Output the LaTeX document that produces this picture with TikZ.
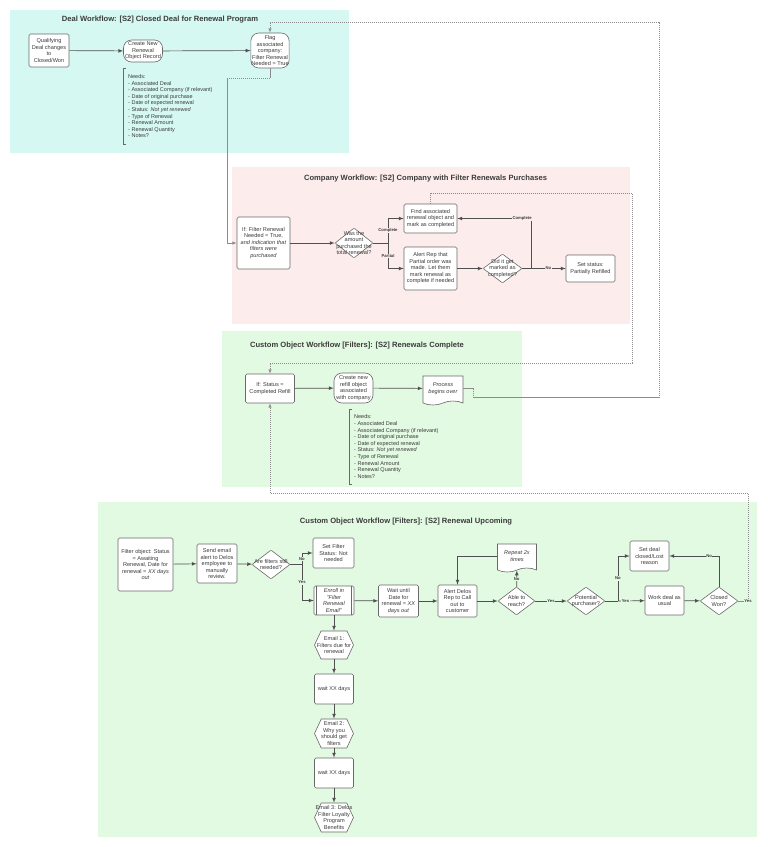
\documentclass[tikz,border=0pt]{standalone}
\usepackage{fontspec}
\setmainfont{Liberation Sans}
\usetikzlibrary{arrows}
\usetikzlibrary{shapes}

\definecolor{dealbg}{RGB}{214,248,242}
\definecolor{compbg}{RGB}{253,236,236}
\definecolor{custbg}{RGB}{226,249,226}
\definecolor{edge}{RGB}{80,80,80}
\definecolor{frame}{RGB}{105,105,105}
\definecolor{ink}{RGB}{60,60,60}

\begin{document}
\begin{tikzpicture}[x=1pt,y=-1pt]
   \tikzset{Flow/.style={->,>=latex,draw=edge,line width=0.7pt}}
   \tikzset{Line/.style={draw=edge,line width=0.7pt}}
   \tikzset{Link/.style={->,>=latex,draw=black!45,line width=0.5pt,dash pattern=on 1.2pt off 0.8pt}}
   \tikzset{Box/.style={draw=frame,fill=white,rounded corners=1.5pt,align=center,inner sep=0.5pt,text=ink,font=\fontsize{5.6}{6.5}\selectfont,line width=0.6pt}}
   \tikzset{Term/.style={Box,rounded corners=8pt}}
   \tikzset{Dec/.style={Box,diamond,rounded corners=0.8pt}}
   \tikzset{Doc/.style={Box,tape,tape bend top=none,tape bend bottom=in and out,tape bend height=4pt,rounded corners=0pt}}
   \tikzset{Hex/.style={Box,signal,signal to=west and east,signal pointer angle=130,rounded corners=0pt}}
   \tikzset{Mid/.style={font=\fontsize{5.6}{6.5}\selectfont,text=ink,align=center}}
   \tikzset{Title/.style={font=\fontsize{7.6}{9}\selectfont\bfseries,text=ink}}
   \tikzset{Needs/.style={align=left,anchor=north west,inner xsep=5pt,inner ysep=0pt,font=\fontsize{5.5}{6.6}\selectfont,text=ink}}
   \tikzset{Lbl/.style={font=\fontsize{4.2}{4.2}\selectfont\bfseries,text=ink,inner sep=0.6pt}}
   \useasboundingbox (0,0) rectangle (768,847);
   \fill[dealbg] (10,10) rectangle (349,153);
   \fill[compbg] (232,167) rectangle (630,324);
   \fill[custbg] (222,331) rectangle (522,487);
   \fill[custbg] (98,502) rectangle (757,837);
   \node[Title] (t1) at (160,20) {Deal Workflow: [S2] Closed Deal for Renewal Program};
   \node[Title] (t2) at (425.5,179) {Company Workflow: [S2] Company with Filter Renewals Purchases};
   \node[Title] (t3) at (357,346) {Custom Object Workflow [Filters]: [S2] Renewals Complete};
   \node[Title] (t4) at (406,522) {Custom Object Workflow [Filters]: [S2] Renewal Upcoming};
   \node[Box,minimum width=40pt,minimum height=33pt] (qual) at (49,50.5) {Qualifying\\Deal changes\\to\\Closed/Won};
   \node[Term,minimum width=39pt,minimum height=22pt] (newrec) at (143,51) {Create New\\Renewal\\Object Record};
   \node[Term,minimum width=37pt,minimum height=35pt] (flag) at (270,50.5) {Flag\\associated\\company:\\Filter Renewal\\Needed = True};
   \node[Needs,minimum height=76pt] (nd1) at (123,68) {Needs:\\- Associated Deal\\- Associated Company (if relevant)\\- Date of original purchase\\- Date of expected renewal\\- Status: \textit{Not yet renewed}\\- Type of Renewal\\- Renewal Amount\\- Renewal Quantity\\- Notes?};
   \draw[Line,draw=frame] ([xshift=3pt]nd1.north west) -- (nd1.north west) -- (nd1.south west) -- ([xshift=3pt]nd1.south west);
   \draw[Flow] (qual) -- (newrec);
   \draw[Flow] (newrec) -- (flag);
   \node[Box,minimum width=53pt,minimum height=52pt] (iff) at (263.5,243) {If: Filter Renewal\\Needed = True,\\\textit{and indication that}\\\textit{filters were}\\\textit{purchased}};
   \node[Dec,minimum width=38pt,minimum height=30pt,label={[Mid]center:{Was the\\amount\\purchased the\\total renewal?}}] (was) at (354,243) {};
   \node[Box,minimum width=53pt,minimum height=29pt] (find) at (430.5,218.5) {Find associated\\renewal object and\\mark as completed};
   \node[Box,minimum width=53pt,minimum height=43pt] (alert) at (430.5,268.5) {Alert Rep that\\Partial order was\\made. Let them\\mark renewal as\\complete if needed};
   \node[Dec,minimum width=39pt,minimum height=29pt,label={[Mid]center:{Did it get\\marked as\\completed?}}] (did) at (502.5,268.5) {};
   \node[Box,minimum width=49pt,minimum height=27pt] (setst) at (590.5,268.5) {Set status:\\Partially Refilled};
   \coordinate (br1) at (388,243);
   \coordinate (br2) at (531,268.5);
   \draw[Flow] (iff) -- (was);
   \draw[Line] (was.east) -- (br1);
   \draw[Flow] (br1) |- (find.west) node[Lbl,fill=compbg,pos=0.25]{Complete};
   \draw[Flow] (br1) |- (alert.west) node[Lbl,fill=compbg,pos=0.25]{Partial};
   \draw[Flow] (alert) -- (did);
   \draw[Line] (did.east) -- (br2);
   \draw[Flow] (br2) -- (setst) node[Lbl,fill=compbg,midway]{No};
   \draw[Flow] (br2) |- (find.east) node[Lbl,fill=compbg,pos=0.56]{Complete};
   \node[Box,minimum width=49pt,minimum height=29pt] (ifst) at (270,388.5) {If: Status =\\Completed Refill};
   \node[Term,minimum width=39pt,minimum height=30pt] (refill) at (353.5,388) {Create new\\refill object\\associated\\with company};
   \node[Doc,minimum width=40pt,minimum height=29pt] (again) at (443,388.5) {\textit{Process}\\\textit{begins over}};
   \node[Needs,minimum height=75pt] (nd2) at (349,409) {Needs:\\- Associated Deal\\- Associated Company (if relevant)\\- Date of original purchase\\- Date of expected renewal\\- Status: \textit{Not yet renewed}\\- Type of Renewal\\- Renewal Amount\\- Renewal Quantity\\- Notes?};
   \draw[Line,draw=frame] ([xshift=3pt]nd2.north west) -- (nd2.north west) -- (nd2.south west) -- ([xshift=3pt]nd2.south west);
   \draw[Flow] (ifst) -- (refill);
   \draw[Flow] (refill) -- (again);
   \node[Box,minimum width=55pt,minimum height=53pt] (filt) at (145.5,564.5) {Filter object: Status\\= Awaiting\\Renewal, Date for\\renewal = \textit{XX days}\\\textit{out}};
   \node[Box,minimum width=40pt,minimum height=39pt] (send) at (217,563.5) {Send email\\alert to Delos\\employee to\\manually\\review.};
   \node[Dec,minimum width=38pt,minimum height=29pt,label={[Mid]center:{Are filters still\\needed?}}] (still) at (271,564.5) {};
   \node[Box,minimum width=41pt,minimum height=30pt] (setf) at (333.5,553) {Set Filter\\Status: Not\\needed};
   \node[Box,minimum width=40pt,minimum height=29pt] (enr) at (334,600.5) {\textit{Enroll in}\\\textit{"Filter}\\\textit{Renewal}\\\textit{Email"}};
   \draw[Line,draw=frame,line width=0.6pt] ([xshift=3pt]enr.north west) -- ([xshift=3pt]enr.south west) ([xshift=-3pt]enr.north east) -- ([xshift=-3pt]enr.south east);
   \node[Box,minimum width=40pt,minimum height=32pt] (wait) at (398.5,601) {Wait until\\Date for\\renewal = \textit{XX}\\\textit{days out}};
   \node[Box,minimum width=39pt,minimum height=32pt] (call) at (457.5,601) {Alert Delos\\Rep to Call\\out to\\customer};
   \node[Dec,minimum width=37pt,minimum height=28pt,label={[Mid]center:{Able to\\reach?}}] (able) at (516.5,601) {};
   \node[Doc,minimum width=39pt,minimum height=28pt] (rep) at (517,556) {\textit{Repeat 2x}\\\textit{times}};
   \node[Dec,minimum width=38pt,minimum height=28pt,label={[Mid]center:{Potential\\purchaser?}}] (pot) at (586,601) {};
   \node[Box,minimum width=39pt,minimum height=30pt] (setd) at (649.5,556) {Set deal\\closed/Lost\\reason};
   \node[Box,minimum width=39pt,minimum height=29pt] (work) at (664.5,600.5) {Work deal as\\usual};
   \node[Dec,minimum width=38pt,minimum height=28pt,label={[Mid]center:{Closed\\Won?}}] (won) at (719,601) {};
   \node[Hex,minimum width=39pt,minimum height=28pt,label={[Mid]center:{Email 1:\\Filters due for\\renewal}}] (em1) at (334,645) {};
   \node[Box,minimum width=39pt,minimum height=30pt] (wt1) at (334,689) {wait XX days};
   \node[Hex,minimum width=39pt,minimum height=29pt,label={[Mid]center:{Email 2:\\Why you\\should get\\filters}}] (em2) at (334,733.5) {};
   \node[Box,minimum width=39pt,minimum height=30pt] (wt2) at (334,773) {wait XX days};
   \node[Hex,minimum width=39pt,minimum height=29pt,label={[Mid]center:{Email 3: Delos\\Filter Loyalty\\Program\\Benefits}}] (em3) at (334,817.5) {};
   \coordinate (br3) at (302,564.5);
   \coordinate (br4) at (618,601);
   \draw[Flow] (filt) -- (send);
   \draw[Flow] (send) -- (still);
   \draw[Line] (still.east) -- (br3);
   \draw[Flow] (br3) |- (setf.west) node[Lbl,fill=custbg,pos=0.25]{No};
   \draw[Flow] (br3) |- (enr.west) node[Lbl,fill=custbg,pos=0.25]{Yes};
   \draw[Flow] (enr) -- (wait);
   \draw[Flow] (wait) -- (call);
   \draw[Flow] (call) -- (able);
   \draw[Flow] (able) -- (rep) node[Lbl,fill=custbg,midway]{No};
   \draw[Flow] (rep.west) -| (call.north);
   \draw[Flow] (able) -- (pot) node[Lbl,fill=custbg,midway]{Yes};
   \draw[Line] (pot.east) -- (br4);
   \draw[Flow] (br4) |- (setd.west) node[Lbl,fill=custbg,pos=0.25]{No};
   \draw[Flow] (br4) -- (work) node[Lbl,fill=custbg,pos=0.28]{Yes};
   \draw[Flow] (work) -- (won);
   \draw[Flow] (won.north) |- (setd.east) node[Lbl,fill=custbg,pos=0.6]{No};
   \draw[Flow] (enr) -- (em1);
   \draw[Flow] (em1) -- (wt1);
   \draw[Flow] (wt1) -- (em2);
   \draw[Flow] (em2) -- (wt2);
   \draw[Flow] (wt2) -- (em3);
   \draw[Link] (flag.south) |- (227,78) |- (iff.west);
   \draw[Link] (again.east) -- ++(10,0) -- ++(0,9) -| (659,22) -| (flag.north);
   \draw[Link] (find.north) -- ++(0,-10) -| (632,363) -| (ifst.north);
   \draw[Link] (won.east) -- (748,601) node[Lbl,fill=custbg]{Yes} |- (270,493) -- (ifst.south);
\end{tikzpicture}
\end{document}
